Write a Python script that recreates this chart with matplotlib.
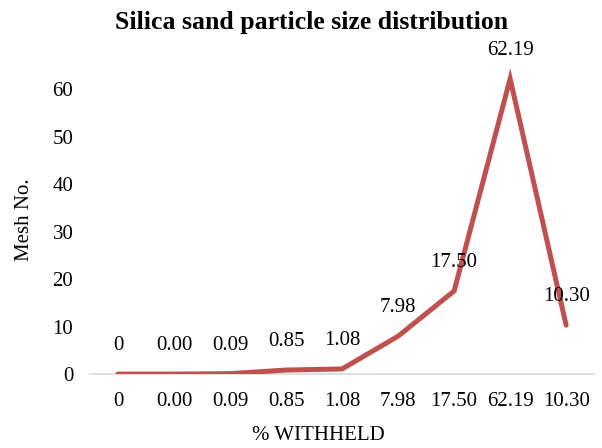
import matplotlib
matplotlib.use("Agg")
import matplotlib.pyplot as plt

# sieve fractions (category labels) and the mesh values plotted over them
categories = ["0", "0.00", "0.09", "0.85", "1.08", "7.98", "17.50", "62.19", "10.30"]
values = [0, 0.00, 0.09, 0.85, 1.08, 7.98, 17.50, 62.19, 10.30]
value_labels = ["0", "0.00", "0.09", "0.85", "1.08", "7.98", "17.50", "62.19", "10.30"]
yticks = [0, 10, 20, 30, 40, 50, 60]

plt.rcParams["font.family"] = ["Liberation Serif", "DejaVu Serif"]

fig = plt.figure(figsize=(6.02, 4.48), dpi=100)
ax = fig.add_axes([0.1495, 0.165, 0.8375, 0.742])

x = list(range(len(categories)))
ax.plot(x, values, color="#C0504D", linewidth=3.6, solid_capstyle="round",
        solid_joinstyle="miter", zorder=3)

# value labels above each point
for xi, v, lab in zip(x, values, value_labels):
    ax.annotate(lab, (xi, v), xytext=(0, 20.5), textcoords="offset points",
                ha="center", va="center", fontsize=15, color="#000000")

ax.set_xlim(-0.5, len(categories) - 0.5)
ax.set_ylim(0, 70)
ax.set_xticks(x)
ax.set_xticklabels(categories)
ax.set_yticks(yticks)
ax.tick_params(axis="both", length=0, labelsize=15, colors="#000000")
ax.tick_params(axis="x", pad=13)
ax.tick_params(axis="y", pad=12)

for side in ["top", "right", "left"]:
    ax.spines[side].set_visible(False)
ax.spines["bottom"].set_color("#D9D9D9")
ax.spines["bottom"].set_linewidth(1.2)

# axis titles and chart title
fig.text(0.529, 0.029, "% WITHHELD", ha="center", va="center", fontsize=15)
fig.text(0.0415, 0.509, "Mesh No.", ha="center", va="center", rotation=90,
         fontsize=15)
fig.text(0.517, 0.949, "Silica sand particle size distribution", ha="center",
         va="center", fontsize=18.5, fontweight="bold")

fig.savefig("out.png", dpi=100)
